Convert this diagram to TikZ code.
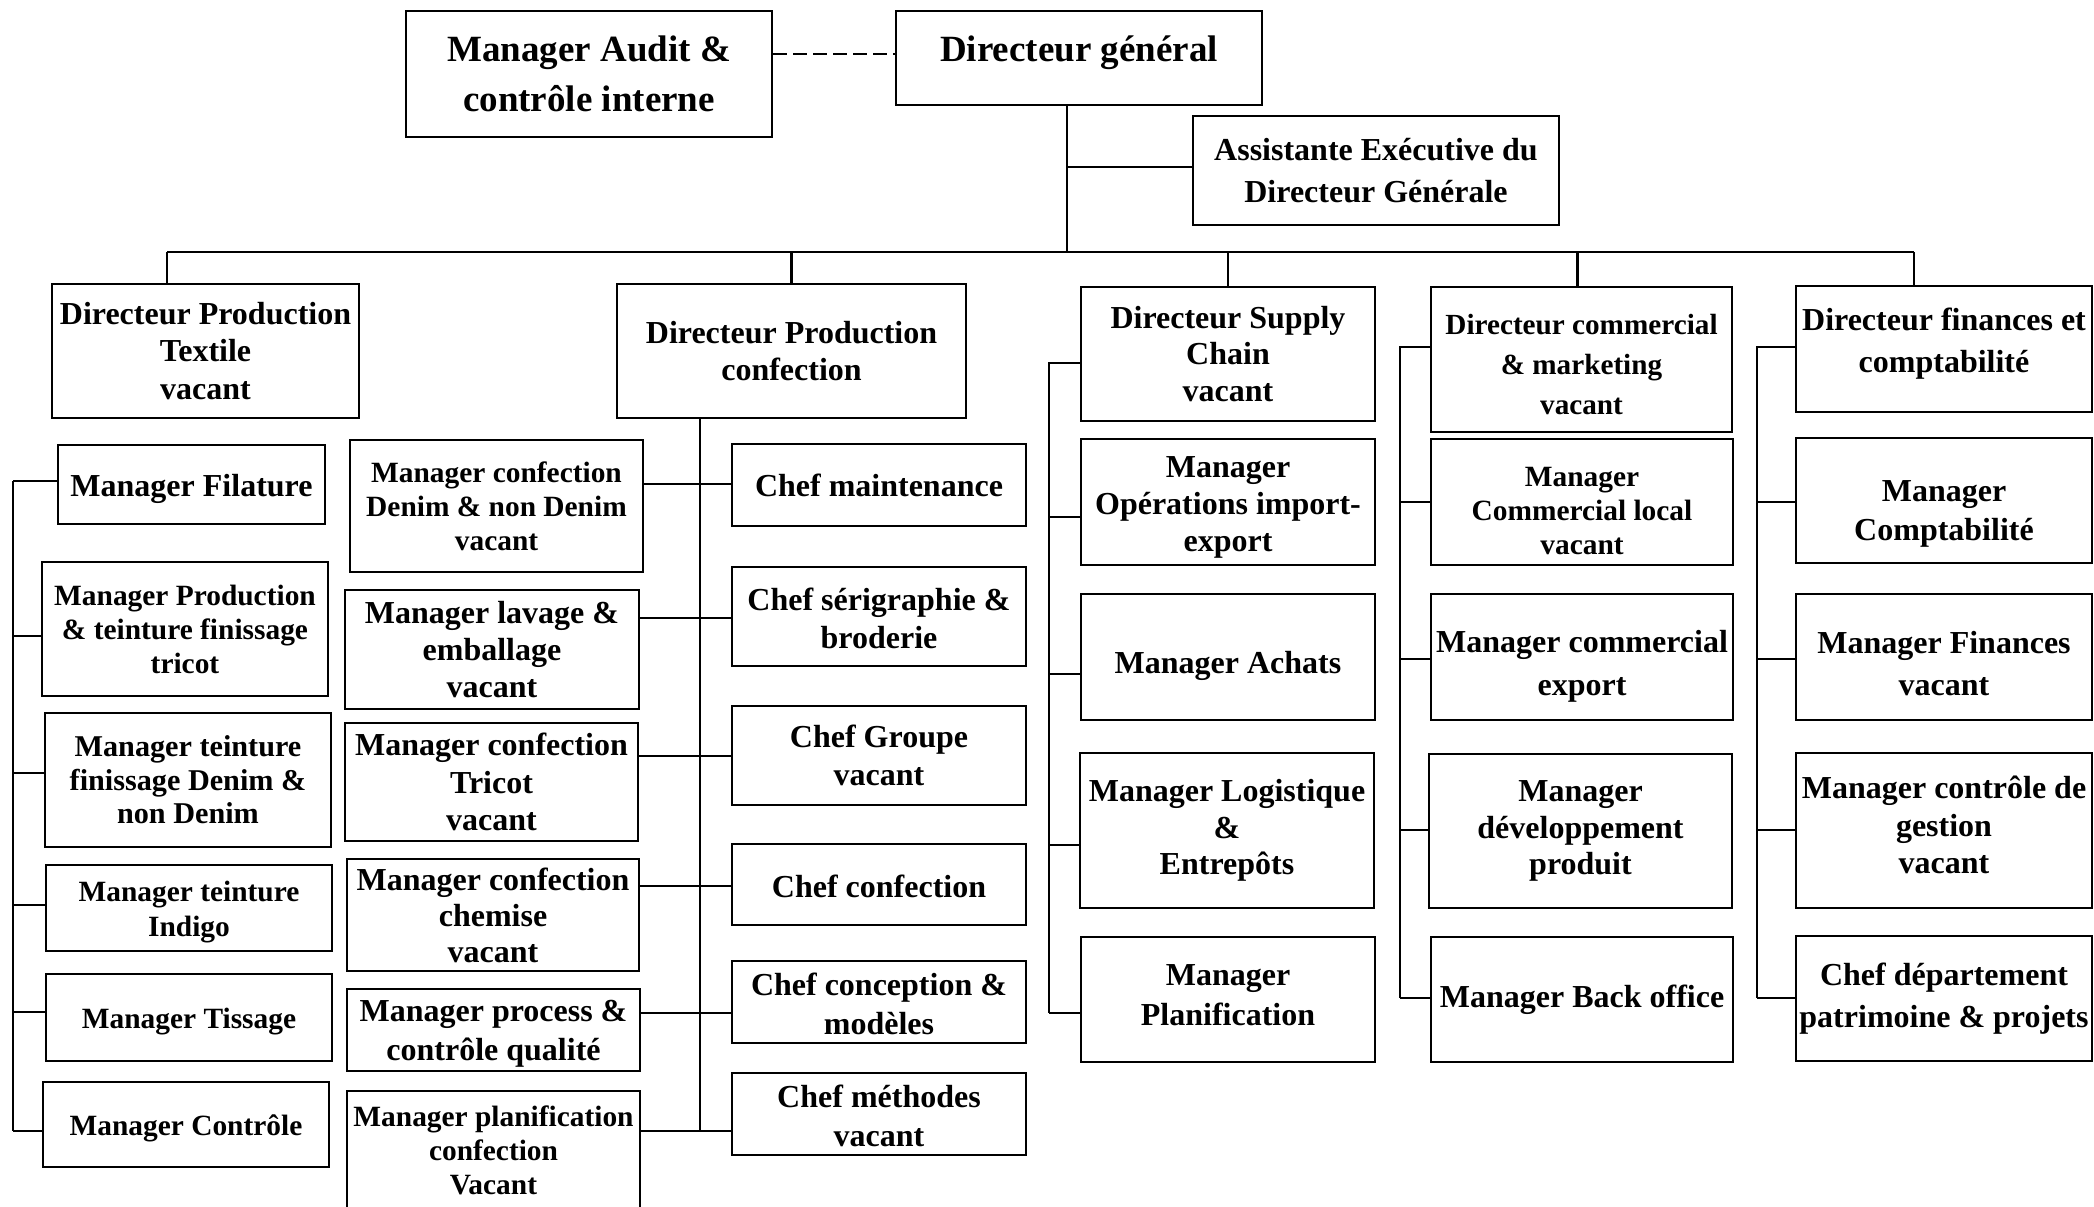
\documentclass[tikz,border=0pt]{standalone}
\usepackage{fontspec}
\setmainfont{Liberation Serif}
\usetikzlibrary{calc}
\tikzset{
  ob/.style={draw=black, line width=1.3pt, rectangle, inner sep=0pt},
  obt/.style={inner sep=0pt, align=center, text=black},
  cn/.style={draw=black, line width=1.3pt},
  dsh/.style={draw=black, line width=1.3pt, dash pattern=on 7pt off 3pt}
}
% #1 text shift down (pt), #2 name, #3 x1, #4 y1, #5 x2, #6 y2, #7 font size, #8 baselineskip, #9 text
\newcommand\obox[9][0]{%
  \node[ob, minimum width={(#5-#3)*0.5pt}, minimum height={(#6-#4)*0.5pt}] (#2) at ({(#3+#5)/2},{(#4+#6)/2}) {};
  \node[obt, font=\fontsize{#7}{#8}\selectfont\bfseries] (#2t) at ([yshift=-#1pt]#2.center) {#9};}
\begin{document}
\begin{tikzpicture}[x=0.5pt,y=-0.5pt]
\path[use as bounding box, fill=white] (0,0) rectangle (2094,1206);

% top
\obox{audit}{406}{11}{772}{137}{18.5}{25.3}{Manager Audit \&\\contrôle interne}
\obox[-2.7]{dg}{896}{11}{1262}{105}{18.5}{25}{Directeur général}
\obox{assist}{1193}{116}{1559}{225}{16}{21.3}{Assistante Exécutive du\\Directeur Générale}

% directors
\obox{dpt}{52}{284}{359}{418}{16}{18.7}{Directeur Production\\Textile\\vacant}
\obox{dpc}{617}{284}{966}{418}{16}{18.7}{Directeur Production\\confection}
\obox{dsc}{1081}{287}{1375}{421}{16}{18.4}{Directeur Supply\\Chain\\vacant}
\obox[2.7]{dcm}{1431}{287}{1732}{432}{14.6}{20}{Directeur commercial\\\& marketing\\vacant}
\obox[-2.7]{dfc}{1796}{286}{2092}{412}{16}{21.3}{Directeur finances et\\comptabilité}

% textile column
\obox[2]{fil}{58}{445}{325}{524}{16}{18}{Manager Filature}
\obox{prod}{42}{562}{328}{696}{14.7}{17}{Manager Production\\\& teinture finissage\\tricot}
\obox{tden}{45}{713}{331}{847}{15.1}{16.7}{Manager teinture\\finissage Denim \&\\non Denim}
\obox[2]{tind}{46}{865}{332}{951}{14.7}{17.3}{Manager teinture\\Indigo}
\obox[2]{tiss}{46}{974}{332}{1061}{14.7}{17}{Manager Tissage}
\obox[2]{ctrl}{43}{1082}{329}{1167}{14.7}{17}{Manager Contrôle}

% confection column, left
\obox{mcd}{350}{440}{643}{572}{14.7}{17}{Manager confection\\Denim \& non Denim\\vacant}
\obox{lav}{345}{590}{639}{709}{16}{18.7}{Manager lavage \&\\emballage\\vacant}
\obox{mct}{345}{723}{638}{841}{16}{18.7}{Manager confection\\Tricot\\vacant}
\obox{mcc}{347}{859}{639}{971}{16}{18}{Manager confection\\chemise\\vacant}
\obox[2]{mpq}{347}{989}{640}{1071}{16}{19.3}{Manager process \&\\contrôle qualité}
\obox{mpl}{347}{1091}{640}{1210}{14.7}{17}{Manager planification\\confection\\Vacant}

% confection column, right
\obox{cmain}{732}{444}{1026}{526}{16}{18}{Chef maintenance}
\obox[1]{cser}{732}{567}{1026}{666}{16}{18.7}{Chef sérigraphie \&\\broderie}
\obox{cgrp}{732}{706}{1026}{805}{16}{18.7}{Chef Groupe\\vacant}
\obox[1]{cconf}{732}{844}{1026}{925}{16}{18}{Chef confection}
\obox[1]{cconc}{732}{961}{1026}{1043}{16}{19.3}{Chef conception \&\\modèles}
\obox[1]{cmeth}{732}{1073}{1026}{1155}{16}{19.3}{Chef méthodes\\vacant}

% supply chain column
\obox[2.7]{mop}{1081}{439}{1375}{565}{16}{18.3}{Manager\\Opérations import-\\export}
\obox[4.7]{mach}{1081}{594}{1375}{720}{16}{18}{Manager Achats}
\obox{mlog}{1080}{753}{1374}{908}{16}{18.3}{Manager Logistique\\\&\\Entrepôts}
\obox[-2]{mplan}{1081}{937}{1375}{1062}{16}{20}{Manager\\Planification}

% commercial column
\obox[4.7]{mcl}{1431}{439}{1733}{565}{14.7}{17}{Manager\\Commercial local\\vacant}
\obox[4.7]{mce}{1431}{594}{1733}{720}{16}{21.3}{Manager commercial\\export}
\obox{mdp}{1429}{754}{1732}{908}{16}{18.3}{Manager\\développement\\produit}
\obox{mbo}{1431}{937}{1733}{1062}{16}{18}{Manager Back office}

% finance column
\obox[6.7]{mcpt}{1796}{438}{2092}{563}{16}{19.3}{Manager\\Comptabilité}
\obox[3.3]{mfin}{1796}{594}{2092}{720}{16}{21.3}{Manager Finances\\vacant}
\obox[-2.7]{mcg}{1796}{753}{2092}{908}{16}{18.7}{Manager contrôle de\\gestion\\vacant}
\obox{cpat}{1796}{936}{2092}{1061}{16}{21.3}{Chef département\\patrimoine \& projets}

% coordinates
\coordinate (dashy) at (0,54);
\coordinate (dgv) at (1067,105);
\coordinate (asj) at (1067,167);
\coordinate (busC) at (1067,252);
\coordinate (busL) at (167,252);
\coordinate (busR) at (1914,252);
\coordinate (sLt) at (13,481);
\coordinate (sLb) at (13,1131);
\coordinate (sCb) at (700,1131);
\coordinate (sCt) at (700,418);
\coordinate (sSt) at (1049,363);
\coordinate (sSb) at (1049,1013);
\coordinate (sMt) at (1400,347);
\coordinate (sMb) at (1400,998);
\coordinate (sFt) at (1757,347);
\coordinate (sFb) at (1757,998);

% top connectors
\draw[dsh] (audit.east |- dashy) -- (dg.west |- dashy);
\draw[cn] (dgv) -- (busC);
\draw[cn] (asj) -- (assist.west |- asj);
\draw[cn] (busL) -- (busR);
\draw[cn] (busL) -- (dpt.north -| busL);
\draw[cn] (dpc.north |- busC) -- (dpc.north);
\draw[cn] (dsc.north |- busC) -- (dsc.north);
\draw[cn] ([xshift=-2pt]dcm.north |- busC) -- ([xshift=-2pt]dcm.north);
\draw[cn] (busR) -- (dfc.north -| busR);

% textile spine
\draw[cn] (sLt) -- (sLb);
\foreach \n/\y in {fil/481, prod/636, tden/773, tind/905, tiss/1012, ctrl/1131}{
  \draw[cn] (sLt |- 0,\y) -- (\n.west |- 0,\y);
}

% confection spine
\draw[cn] (sCt) -- (sCb);
\foreach \a/\b/\y in {mcd/cmain/484, lav/cser/618, mct/cgrp/756, mcc/cconf/886, mpq/cconc/1013, mpl/cmeth/1131}{
  \draw[cn] (\a.east |- 0,\y) -- (\b.west |- 0,\y);
}

% supply chain spine
\draw[cn] (dsc.west |- sSt) -- (sSt) -- (sSb);
\foreach \n/\y in {mop/517, mach/674, mlog/845, mplan/1013}{
  \draw[cn] (sSt |- 0,\y) -- (\n.west |- 0,\y);
}

% commercial spine
\draw[cn] (dcm.west |- sMt) -- (sMt) -- (sMb);
\foreach \n/\y in {mcl/502, mce/659, mdp/830, mbo/998}{
  \draw[cn] (sMt |- 0,\y) -- (\n.west |- 0,\y);
}

% finance spine
\draw[cn] (dfc.west |- sFt) -- (sFt) -- (sFb);
\foreach \n/\y in {mcpt/502, mfin/659, mcg/830, cpat/998}{
  \draw[cn] (sFt |- 0,\y) -- (\n.west |- 0,\y);
}
\end{tikzpicture}
\end{document}
